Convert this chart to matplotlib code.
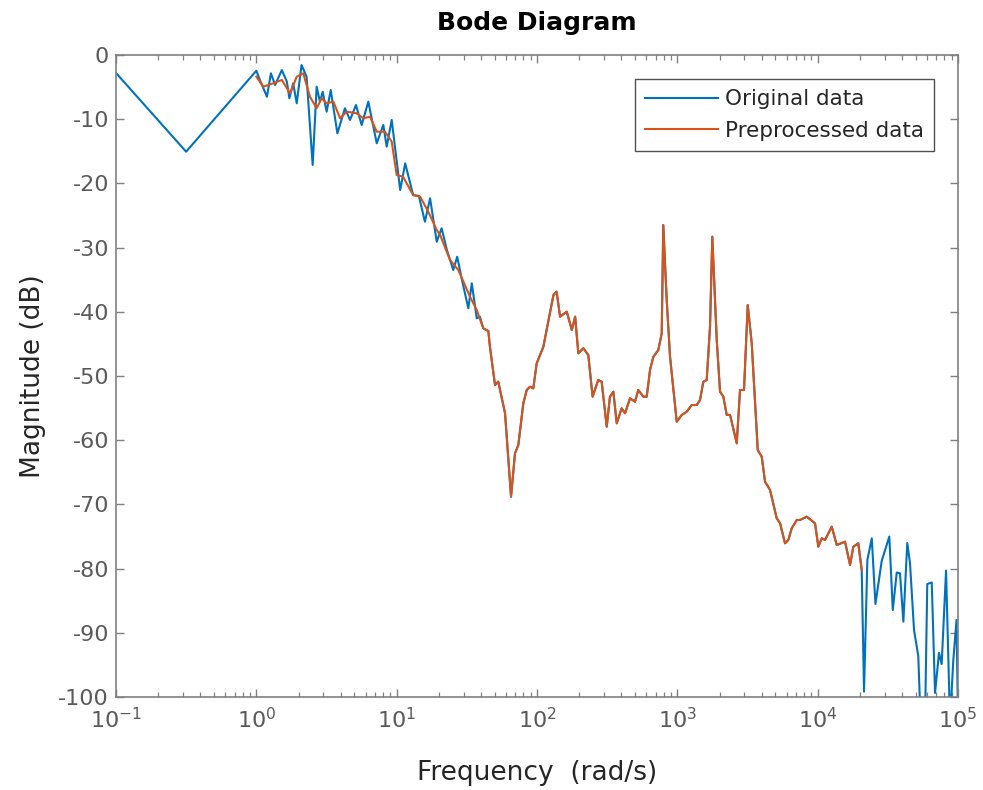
import matplotlib
matplotlib.use("Agg")
import matplotlib.pyplot as plt
from matplotlib.ticker import LogLocator, FixedLocator, NullLocator, FixedFormatter, NullFormatter

plt.rcParams['font.family'] = ['DejaVu Sans']
plt.rcParams['axes.unicode_minus'] = False
plt.rcParams['mathtext.fontset'] = 'dejavusans'

# ---- data (frequency in rad/s, magnitude in dB) ----
# Original data: low-frequency part
orig_low_f = [0.1, 0.316, 1.0, 1.06, 1.19, 1.27, 1.36, 1.52, 1.65, 1.72, 1.83, 1.94,
              2.10, 2.28, 2.52, 2.69, 2.84, 2.97, 3.17, 3.39, 3.78, 4.28, 4.65, 5.13,
              5.63, 6.28, 7.21, 8.03, 8.49, 9.22, 10.6, 11.5, 13.1, 14.4, 15.9, 17.3,
              19.3, 20.9, 22.8, 25.3, 27.0, 29.2, 32.4, 34.3, 37.2, 39.2]
orig_low_db = [-2.80, -15.06, -2.45, -3.89, -6.50, -2.85, -4.67, -2.34, -4.16, -6.74, -4.41, -7.52,
               -1.56, -3.38, -17.13, -4.94, -7.27, -5.72, -8.83, -5.45, -12.20, -8.30, -10.12, -7.79,
               -10.90, -7.27, -13.75, -10.90, -14.28, -10.12, -21.03, -16.87, -21.81, -21.96, -25.97, -22.32,
               -29.08, -26.99, -30.37, -33.49, -31.42, -35.05, -39.45, -35.56, -41.01, -40.76]

# Original data: high-frequency part (values below -100 fall off the axes)
orig_high_f = [20600, 21400, 22600, 24300, 25800, 28600, 32400, 34300, 36600, 38600,
               40800, 43500, 45500, 48600, 52100, 54200, 58200, 60400, 65000, 68600,
               73200, 76500, 82200, 87700, 92600, 97600, 100000]
orig_high_db = [-80.22, -99.17, -78.66, -75.28, -85.51, -78.81, -75.00, -86.45, -80.61, -80.73,
                -88.27, -76.01, -79.17, -89.56, -93.61, -104.0, -104.0, -82.40, -82.16, -99.37,
                -93.14, -94.86, -80.30, -104.0, -94.24, -88.00, -104.0]

# Preprocessed data
pre_f = [1.0, 1.12, 1.32, 1.52, 1.74, 1.94, 2.16, 2.41, 2.69, 2.92, 3.17, 3.54, 3.95, 4.41,
         5.19, 5.78, 6.46, 7.21, 8.26, 9.22, 10.0, 11.1, 13.1, 14.7, 16.8, 19.3, 20.4, 24.0,
         27.5, 33.3, 37.2, 41.4, 45.0, 46.2, 50.2, 53.0, 59.2, 65.3, 69.7, 73.6, 79.9, 84.5,
         89.2, 94.1, 99.5, 111, 131, 138, 146, 163, 177, 187, 197, 214, 232, 249, 273, 289,
         314, 331, 350, 370, 401, 424, 460, 499, 527, 572, 605, 639, 675, 732, 774, 794, 840,
         887, 990, 1075, 1167, 1266, 1374, 1451, 1532, 1619, 1710, 1775, 1909, 2015, 2128,
         2249, 2375, 2651, 2797, 2986, 3174, 3390, 3741, 3993, 4217, 4577, 5108, 5395, 5852,
         6180, 6533, 7096, 7487, 8356, 9577, 10110, 10690, 11280, 12600, 13680, 15670,
         17010, 17950, 19480, 20600]
pre_db = [-3.38, -4.94, -4.41, -3.89, -5.97, -3.38, -2.85, -6.50, -8.30, -6.74, -7.52, -7.27,
          -9.86, -8.83, -9.08, -9.86, -9.61, -11.95, -11.95, -13.50, -18.69, -18.96, -21.81,
          -22.07, -24.41, -27.26, -28.04, -31.93, -33.49, -37.65, -39.72, -42.57, -42.99,
          -45.44, -51.40, -50.89, -55.81, -68.80, -62.04, -60.75, -54.25, -52.18, -51.67,
          -51.92, -48.02, -45.44, -37.38, -36.87, -40.76, -39.98, -42.83, -40.76, -46.46,
          -45.68, -46.73, -53.22, -50.62, -50.89, -57.90, -53.22, -52.44, -57.37, -55.03,
          -55.81, -53.47, -54.00, -52.18, -53.22, -53.22, -49.06, -46.99, -45.95, -43.35,
          -26.48, -38.16, -46.99, -57.12, -56.07, -55.56, -54.52, -54.52, -53.74, -50.89,
          -50.62, -42.32, -28.30, -44.39, -52.44, -53.22, -56.07, -56.07, -60.48, -52.18,
          -52.18, -38.94, -44.91, -61.53, -62.57, -66.46, -67.76, -72.16, -72.94, -76.06,
          -75.54, -73.72, -72.43, -72.43, -71.92, -72.94, -76.59, -75.28, -75.54, -73.47,
          -76.32, -75.81, -79.44, -76.59, -76.06, -80.22]

x_ticks = [1e-1, 1e0, 1e1, 1e2, 1e3, 1e4, 1e5]
x_tick_labels = ['$10^{-1}$', '$10^{0}$', '$10^{1}$', '$10^{2}$', '$10^{3}$', '$10^{4}$', '$10^{5}$']
y_ticks = [0, -10, -20, -30, -40, -50, -60, -70, -80, -90, -100]

# Original data in the mid range coincides with the preprocessed data
mid_f = [f for f in pre_f if 40 < f < 20600]
mid_db = [d for f, d in zip(pre_f, pre_db) if 40 < f < 20600]
orig_f = orig_low_f + mid_f + orig_high_f
orig_db = orig_low_db + mid_db + orig_high_db

BLUE = '#0072BD'
ORANGE = '#D95319'
AX = '#262626'
TICK = '#5a5a5a'

fig = plt.figure(figsize=(9.83, 7.90), dpi=100)
ax = fig.add_axes([116/983, 1-697/790, (958-116)/983, (697-55)/790])

ax.plot(orig_f, orig_db, color=BLUE, lw=1.5, label='Original data')
ax.plot(pre_f, pre_db, color=ORANGE, lw=1.5, label='Preprocessed data')

ax.set_xscale('log')
ax.set_xlim(1e-1, 1e5)
ax.set_ylim(-100, 0)
ax.xaxis.set_major_locator(FixedLocator(x_ticks))
ax.xaxis.set_major_formatter(FixedFormatter(x_tick_labels))
ax.xaxis.set_minor_locator(LogLocator(base=10, subs=range(2, 10), numticks=50))
ax.xaxis.set_minor_formatter(NullFormatter())
ax.yaxis.set_major_locator(FixedLocator(y_ticks))
ax.yaxis.set_minor_locator(NullLocator())
ax.set_yticklabels([str(v) for v in y_ticks])

for sp in ax.spines.values():
    sp.set_color('#808080')
    sp.set_linewidth(1.2)

ax.tick_params(which='both', direction='in', top=True, right=True, colors='#808080',
               labelcolor=TICK, labelsize=16)
ax.tick_params(which='major', length=6, width=1.0)
ax.tick_params(which='minor', length=3.5, width=0.9)
ax.tick_params(axis='x', which='major', pad=7)
ax.tick_params(axis='y', which='major', pad=5)

ax.set_xlabel('Frequency  (rad/s)', fontsize=19, color=AX, labelpad=20)
ax.set_ylabel('Magnitude (dB)', fontsize=19, color=AX, labelpad=9)
ax.set_title('Bode Diagram', fontsize=18, fontweight='bold', color='black', pad=18)

leg = ax.legend(loc='upper right', bbox_to_anchor=(0.9715, 0.962), fontsize=15.5,
                frameon=True, fancybox=False, handlelength=3.4, handletextpad=0.35,
                borderpad=0.45, labelspacing=0.55, borderaxespad=0.0)
leg.get_frame().set_edgecolor('#262626')
leg.get_frame().set_linewidth(1.0)
for t in leg.get_texts():
    t.set_color(AX)

fig.savefig('out.png', dpi=100, facecolor='white')
